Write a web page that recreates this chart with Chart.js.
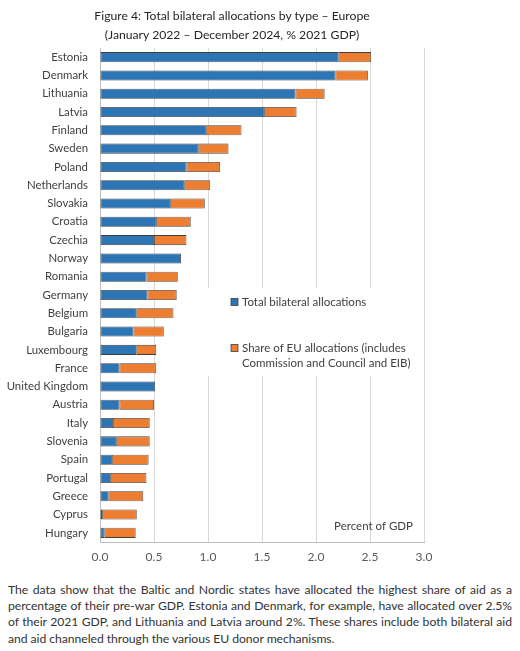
<!DOCTYPE html>
<html>
<head>
<meta charset="utf-8">
<script src="https://cdn.jsdelivr.net/npm/chart.js@4.4.1/dist/chart.umd.min.js"></script>
<style>
  html, body { margin: 0; padding: 0; background: #fff; }
  body { width: 520px; height: 651px; position: relative; overflow: hidden; font-family: Lato, "Open Sans", sans-serif; }
  #title { position: absolute; left: 0; top: 6px; width: 464px; text-align: center; font-size: 12.2px; line-height: 19px; color: #262626; }
  #wrap { position: absolute; left: 0; top: 0; width: 520px; height: 575px; }
  #para { position: absolute; left: 8px; top: 582px; width: 504px; font-size: 12.2px; letter-spacing: -0.05px; line-height: 16.2px; color: #333; text-align: justify; }
</style>
</head>
<body>
<div id="wrap"><canvas id="c"></canvas></div>
<div id="title">Figure 4: Total bilateral allocations by type – Europe<br>(January 2022 – December 2024, % 2021 GDP)</div>
<div id="para">The data show that the Baltic and Nordic states have allocated the highest share of aid as a percentage of their pre-war GDP. Estonia and Denmark, for example, have allocated over 2.5% of their 2021 GDP, and Lithuania and Latvia around 2%. These shares include both bilateral aid and aid channeled through the various EU donor mechanisms.</div>
<script>
const categories = ["Estonia","Denmark","Lithuania","Latvia","Finland","Sweden","Poland","Netherlands","Slovakia","Croatia","Czechia","Norway","Romania","Germany","Belgium","Bulgaria","Luxembourg","France","United Kingdom","Austria","Italy","Slovenia","Spain","Portugal","Greece","Cyprus","Hungary"];
const bilateral = [2.21,2.18,1.81,1.52,0.98,0.91,0.80,0.78,0.65,0.52,0.50,0.75,0.43,0.44,0.34,0.31,0.34,0.18,0.51,0.18,0.12,0.15,0.11,0.10,0.08,0.02,0.04];
const euShare   = [0.30,0.30,0.27,0.30,0.33,0.28,0.31,0.24,0.32,0.32,0.30,0.00,0.29,0.27,0.34,0.28,0.18,0.34,0.00,0.32,0.34,0.31,0.34,0.33,0.32,0.32,0.29];
const seriesNames = ["Total bilateral allocations", "Share of EU allocations (includes|Commission and Council and EIB)"];
const xTicks = [0, 0.5, 1.0, 1.5, 2.0, 2.5, 3.0];
const unitLabel = "Percent of GDP";

const BLUE = "#2e75b6", ORANGE = "#ed7d31", EDGE = "#3f3f3f";
const FONT = "Lato, 'Open Sans', sans-serif";

const overlay = {
  id: "overlay",
  beforeDatasetsDraw(chart) {
    const ctx = chart.ctx, a = chart.chartArea;
    ctx.save();
    const bx = a.left + 108, by = a.top + 240;
    ctx.fillStyle = "#fff";
    ctx.fillRect(bx, by, 212, 88);
    ctx.font = "11.5px " + FONT;
    ctx.textBaseline = "middle";
    const items = [[BLUE, seriesNames[0], by + 14], [ORANGE, seriesNames[1], by + 60]];
    items.forEach(([col, txt, y]) => {
      ctx.fillStyle = col;
      ctx.fillRect(bx + 23, y - 3.5, 7, 7);
      ctx.strokeStyle = EDGE; ctx.lineWidth = 0.8;
      ctx.strokeRect(bx + 23, y - 3.5, 7, 7);
      ctx.fillStyle = "#404040";
      txt.split("|").forEach((t, i) => ctx.fillText(t, bx + 34, y + i * 15));
    });
    ctx.textAlign = "right";
    ctx.fillText(unitLabel, a.right - 11, a.bottom - 16);
    ctx.restore();
  }
};

new Chart(document.getElementById("c"), {
  type: "bar",
  data: {
    labels: categories,
    datasets: [
      { label: seriesNames[0], data: bilateral, backgroundColor: BLUE, borderColor: EDGE, borderWidth: 0.8, borderSkipped: false },
      { label: seriesNames[1], data: euShare, backgroundColor: ORANGE, borderColor: EDGE, borderWidth: 0.8, borderSkipped: false }
    ]
  },
  options: {
    indexAxis: "y",
    responsive: true,
    maintainAspectRatio: false,
    animation: false,
    layout: { padding: { left: 0, right: 96, top: 48, bottom: 8 } },
    datasets: { bar: { categoryPercentage: 1, barPercentage: 0.55 } },
    plugins: { legend: { display: false }, tooltip: { enabled: false }, title: { display: false } },
    scales: {
      x: {
        stacked: true, min: 0, max: 3,
        afterBuildTicks(s) { s.ticks = xTicks.map(v => ({ value: v })); },
        afterFit(s) { s.height = 25; },
        grid: { color: "#d9d9d9", lineWidth: 1, drawTicks: false },
        border: { display: true, color: "#bfbfbf", width: 1 },
        ticks: { padding: 8, color: "#595959", font: { family: FONT, size: 12 }, callback: v => Number(v).toFixed(1) }
      },
      y: {
        stacked: true,
        afterFit(s) { s.width = 100; },
        grid: { display: false, drawTicks: false },
        border: { display: true, color: "#bfbfbf", width: 1 },
        ticks: { padding: 12, color: "#404040", font: { family: FONT, size: 11.4 }, autoSkip: false }
      }
    }
  },
  plugins: [overlay]
});
</script>
</body>
</html>
